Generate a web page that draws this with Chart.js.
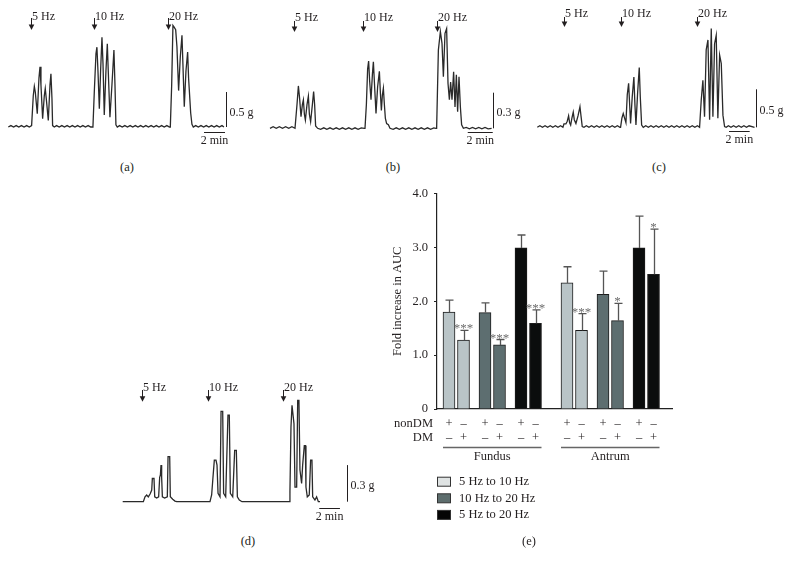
<!DOCTYPE html>
<html>
<head>
<meta charset="utf-8">
<script src="https://cdn.jsdelivr.net/npm/chart.js@4.4.1/dist/chart.umd.min.js"></script>
<style>
  body { margin: 0; background: #fff; }
  #wrap { position: relative; width: 793px; height: 567px; background: #fff; overflow: hidden; }
  #wrap canvas { position: absolute; }
  .cap { position: absolute; font: 12.5px "Liberation Serif", "Times New Roman", serif; color: #231f20; transform: translate(-50%, -50%); }
</style>
</head>
<body>
<div id="wrap">
  <canvas id="cA" width="262" height="150" style="left:0;top:0"></canvas>
  <canvas id="cB" width="266" height="150" style="left:262px;top:0"></canvas>
  <canvas id="cC" width="265" height="150" style="left:528px;top:0"></canvas>
  <canvas id="cD" width="272" height="180" style="left:110px;top:350px"></canvas>
  <canvas id="cE" width="316" height="387" style="left:384px;top:180px"></canvas>
  <div class="cap" style="left:127px;top:167px">(a)</div>
  <div class="cap" style="left:393px;top:167px">(b)</div>
  <div class="cap" style="left:659px;top:167px">(c)</div>
  <div class="cap" style="left:248px;top:541px">(d)</div>
  <div class="cap" style="left:529px;top:541px">(e)</div>
</div>
<script>
// ---- traces: time (min) and force (g) ----
const stimLabels = ['5 Hz', '10 Hz', '20 Hz'];
const timeBarMin = 2;

const aStim = [2.16, 8.19, 15.24];
const aScaleG = 0.5;
const aTime = [0, 0.25, 0.5, 0.75, 1.0, 1.25, 1.5, 1.75, 2.0,
  2.22, 2.38, 2.48, 2.57, 2.76, 2.92, 3.02, 3.11, 3.27, 3.43, 3.52, 3.62, 3.81, 3.97, 4.06, 4.16, 4.22, 4.38,
  4.6, 4.85, 5.1, 5.35, 5.6, 5.85, 6.1, 6.35, 6.6, 6.85, 7.1, 7.35, 7.6, 7.85,
  8.06, 8.19, 8.35, 8.44, 8.54, 8.67, 8.79, 8.92, 9.02, 9.14, 9.30, 9.43, 9.52, 9.68, 9.87, 10.06, 10.16, 10.25, 10.38,
  10.6, 10.85, 11.1, 11.35, 11.6, 11.85, 12.1, 12.35, 12.6, 12.85, 13.1, 13.35, 13.6, 13.85, 14.1, 14.35, 14.6, 14.85, 15.1, 15.35,
  15.43, 15.56, 15.68, 15.78, 15.94, 16.06, 16.22, 16.38, 16.54, 16.63, 16.76, 16.92, 17.08, 17.17, 17.37, 17.49, 17.62,
  17.85, 18.1, 18.35, 18.6, 18.85, 19.1, 19.35, 19.6, 19.85, 20.1, 20.35, 20.54];
const aForce = [0, 0.02, 0, 0.02, 0, 0.02, 0, 0.02, 0,
  0.02, 0.45, 0.58, 0.5, 0.19, 0.7, 0.86, 0.6, 0.12, 0.45, 0.55, 0.4, 0.095, 0.6, 0.76, 0.4, 0.02, 0,
  0.02, 0, 0.02, 0, 0.02, 0, 0.02, 0, 0.02, 0, 0.02, 0, 0.02, 0,
  0, 0.5, 1.05, 1.14, 0.8, 0.26, 0.8, 1.28, 0.9, 0.17, 0.8, 1.19, 0.8, 0.14, 0.6, 1.10, 0.6, 0.03, 0,
  0.02, 0, 0.02, 0, 0.02, 0, 0.02, 0, 0.02, 0, 0.02, 0, 0.02, 0, 0.02, 0, 0.02, 0, 0.02, 0,
  0, 0.6, 1.45, 1.43, 1.39, 1.15, 0.52, 1.0, 1.31, 0.9, 0.29, 0.8, 1.07, 0.7, 0.2, 0.04, 0,
  0.02, 0, 0.02, 0, 0.02, 0, 0.02, 0, 0.02, 0, 0.02, 0];

const bStim = [1.92, 7.47, 13.33];
const bScaleG = 0.3;
const bTime = [0, 0.25, 0.5, 0.75, 1.0, 1.25, 1.5, 1.75, 2.0,
  2.05, 2.16, 2.27, 2.37, 2.48, 2.59, 2.67, 2.75, 2.83, 2.96, 3.07, 3.15, 3.25, 3.39, 3.49, 3.57, 3.65, 3.81,
  4.05, 4.3, 4.55, 4.8, 5.05, 5.3, 5.55, 5.8, 6.05, 6.3, 6.55, 6.8, 7.05, 7.3, 7.55,
  7.60, 7.71, 7.81, 7.89, 7.97, 8.08, 8.19, 8.27, 8.37, 8.48, 8.61, 8.75, 8.83, 8.91, 8.99, 9.07, 9.15, 9.23, 9.33, 9.47, 9.60,
  9.85, 10.1, 10.35, 10.6, 10.85, 11.1, 11.35, 11.6, 11.85, 12.1, 12.35, 12.6, 12.85, 13.1, 13.28,
  13.33, 13.47, 13.63, 13.76, 13.87, 14.0, 14.13, 14.24, 14.35, 14.45, 14.56, 14.69, 14.8, 14.91, 15.01, 15.12, 15.23, 15.33, 15.47,
  15.7, 15.95, 16.2, 16.45, 16.7, 16.95, 17.2, 17.45, 17.73];
const bForce = [0, 0.013, 0, 0.013, 0, 0.013, 0, 0.013, 0,
  0, 0.2, 0.357, 0.25, 0.098, 0.2, 0.24, 0.12, 0.07, 0.2, 0.27, 0.12, 0.056, 0.2, 0.31, 0.2, 0.02, 0,
  -0.008, 0.004, -0.008, 0.004, -0.008, 0.004, -0.008, 0.004, -0.008, 0.004, -0.008, 0.004, -0.008, 0.004, 0,
  0, 0.2, 0.5, 0.567, 0.4, 0.24, 0.45, 0.56, 0.35, 0.126, 0.35, 0.48, 0.3, 0.15, 0.28, 0.337, 0.2, 0.084, 0.04, 0.03, 0,
  -0.008, 0.004, -0.008, 0.004, -0.008, 0.004, -0.008, 0.004, -0.008, 0.004, -0.008, 0.004, -0.008, 0.004, 0,
  0, 0.66, 0.815, 0.716, 0.435, 0.8, 0.84, 0.38, 0.24, 0.39, 0.24, 0.477, 0.18, 0.45, 0.14, 0.435, 0.18, 0.03, 0,
  0.008, -0.004, 0.008, -0.004, 0.008, -0.004, 0.008, -0.004, 0];

const cStim = [2.6, 8.13, 15.48];
const cScaleG = 0.5;
const cTime = [0, 0.25, 0.5, 0.75, 1.0, 1.25, 1.5, 1.75, 2.0, 2.25, 2.48,
  2.58, 2.77, 2.90, 3.03, 3.13, 3.23, 3.35, 3.48, 3.58, 3.74, 3.94, 4.13, 4.23, 4.35, 4.52,
  4.75, 5.0, 5.25, 5.5, 5.75, 6.0, 6.25, 6.5, 6.75, 7.0, 7.25, 7.5, 7.75, 8.0,
  8.06, 8.19, 8.32, 8.45, 8.58, 8.71, 8.84, 8.94, 9.03, 9.19, 9.35, 9.45, 9.55, 9.71, 9.87, 9.97, 10.10, 10.26,
  10.5, 10.75, 11.0, 11.25, 11.5, 11.75, 12.0, 12.25, 12.5, 12.75, 13.0, 13.25, 13.5, 13.75, 14.0, 14.25, 14.5, 14.75, 15.0, 15.25, 15.5, 15.71,
  15.87, 16.03, 16.19, 16.35, 16.52, 16.68, 16.84, 17.0, 17.16, 17.32, 17.48, 17.65, 17.81, 17.97, 18.13, 18.29,
  18.5, 18.75, 19.0, 19.25, 19.5, 19.75, 20.0, 20.25, 20.5, 21.03];
const cForce = [0, 0.02, 0, 0.02, 0, 0.02, 0, 0.02, 0, 0.02, 0,
  0.044, 0.044, 0.08, 0.15, 0.06, 0.03, 0.12, 0.2, 0.1, 0.05, 0.15, 0.27, 0.15, 0.01, 0,
  0.02, 0, 0.02, 0, 0.02, 0, 0.02, 0, 0.02, 0, 0.02, 0, 0.02, 0,
  0, 0.12, 0.18, 0.12, 0.06, 0.43, 0.58, 0.3, 0.05, 0.4, 0.66, 0.3, 0.03, 0.45, 0.785, 0.4, 0.03, 0,
  0.02, 0, 0.02, 0, 0.02, 0, 0.02, 0, 0.02, 0, 0.02, 0, 0.02, 0, 0.02, 0, 0.02, 0, 0.02, 0, 0.02, 0,
  0.36, 0.62, 0.14, 1.02, 1.15, 0.1, 1.30, 0.14, 1.1, 1.21, 0.12, 0.95, 0.84, 0.16, 0.01, 0,
  0.02, 0, 0.02, 0, 0.02, 0, 0.02, 0, 0.02, 0];

const dStim = [1.90, 8.29, 15.48];
const dScaleG = 0.3;
const dTime = [0, 2.0, 2.16, 2.32, 2.48, 2.65, 2.81, 2.87, 3.03, 3.10, 3.29, 3.48, 3.58, 3.65, 3.71, 3.77, 3.84, 4.06, 4.32, 4.39, 4.55, 4.61, 4.84, 5.06, 5.23,
  8.45, 8.61, 8.74, 8.87, 9.03, 9.13, 9.23, 9.42, 9.52, 9.68, 9.77, 9.97, 10.19, 10.32, 10.42, 10.65, 10.84, 11.0, 11.10, 11.29, 11.55,
  16.13, 16.19, 16.29, 16.39, 16.48, 16.58, 16.68, 16.84, 16.94, 17.06, 17.16, 17.32, 17.42, 17.58, 17.68, 17.74, 17.87, 18.06, 18.19, 18.32, 18.39, 18.61, 18.77, 18.94, 19.1];
const dForce = [0, 0, 0.04, 0.055, 0.04, 0.063, 0.096, 0.19, 0.19, 0.04, 0.03, 0.04, 0.2, 0.22, 0.30, 0.2, 0.04, 0.03, 0.04, 0.37, 0.37, 0.04, 0.02, 0.005, 0,
  0, 0.055, 0.2, 0.34, 0.34, 0.30, 0.068, 0.04, 0.74, 0.74, 0.068, 0.04, 0.71, 0.71, 0.068, 0.04, 0.42, 0.42, 0.04, 0.014, 0,
  0, 0.08, 0.61, 0.79, 0.79, 0.64, 0.12, 0.12, 0.83, 0.83, 0.26, 0.15, 0.30, 0.46, 0.46, 0.12, 0.04, 0.055, 0.34, 0.34, 0.04, 0.014, 0.04, 0, 0];

// ---- (e) fold increase in AUC, mean and upper SEM ----
const regions = ['Fundus', 'Antrum'];
const ratios = ['5 Hz to 10 Hz', '10 Hz to 20 Hz', '5 Hz to 20 Hz'];
const fundusNonDM = [1.80, 1.79, 2.99];
const fundusDM = [1.28, 1.19, 1.59];
const antrumNonDM = [2.34, 2.13, 2.99];
const antrumDM = [1.46, 1.64, 2.50];
const fundusNonDMErr = [0.22, 0.18, 0.24];
const fundusDMErr = [0.18, 0.10, 0.25];
const antrumNonDMErr = [0.30, 0.43, 0.59];
const antrumDMErr = [0.31, 0.32, 0.84];
const fundusSig = ['***', '***', '***'];
const antrumSig = ['***', '*', '*'];
const yTicks = [0, 1, 2, 3, 4];

const FONT = '"Liberation Serif", "Times New Roman", serif';
const INK = '#231f20';
const barColors = ['#b9c4c7', '#5d6e70', '#0b0d0d'];
const legendColors = ['#dfe3e3', '#5d6d6d', '#050505'];

Chart.defaults.font.family = FONT;
Chart.defaults.color = INK;

const traceDecor = {
  id: 'traceDecor',
  afterDraw(chart, args, o) {
    const { ctx, scales: { x, y } } = chart;
    ctx.save();
    ctx.fillStyle = INK;
    ctx.strokeStyle = INK;
    ctx.lineWidth = 1;
    ctx.font = '12px ' + FONT;
    ctx.textBaseline = 'alphabetic';
    o.stim.forEach((t, i) => {
      const px = Math.round(x.getPixelForValue(t)) + 0.5;
      ctx.beginPath();
      ctx.moveTo(px, o.arrowTop);
      ctx.lineTo(px, o.arrowBot - 4);
      ctx.stroke();
      ctx.beginPath();
      ctx.moveTo(px - 2.8, o.arrowBot - 5.5);
      ctx.lineTo(px + 2.8, o.arrowBot - 5.5);
      ctx.lineTo(px, o.arrowBot);
      ctx.closePath();
      ctx.fill();
      ctx.textAlign = 'left';
      ctx.fillText(stimLabels[i], px + 0.5, o.labelBase);
    });
    // force scale bar
    const vx = Math.round(x.getPixelForValue(o.vBarAt)) + 0.5;
    const y0 = y.getPixelForValue(0);
    const y1 = y.getPixelForValue(o.gBar);
    ctx.beginPath();
    ctx.moveTo(vx, y0);
    ctx.lineTo(vx, y1);
    ctx.stroke();
    ctx.textAlign = 'left';
    ctx.fillText(o.gBar.toFixed(1) + ' g', vx + 3, (y0 + y1) / 2 + 6);
    // time scale bar
    const hx0 = x.getPixelForValue(o.tBarAt);
    const hx1 = x.getPixelForValue(o.tBarAt + timeBarMin);
    const hy = Math.round(y0 + o.tBarDrop) + 0.5;
    ctx.beginPath();
    ctx.moveTo(hx0, hy);
    ctx.lineTo(hx1, hy);
    ctx.stroke();
    ctx.textAlign = 'center';
    ctx.fillText(timeBarMin + ' min', (hx0 + hx1) / 2, hy + 11);
    ctx.restore();
  }
};

function traceChart(id, time, force, L) {
  const cv = document.getElementById(id);
  const W = cv.width, H = cv.height;
  return new Chart(cv, {
    type: 'line',
    data: {
      datasets: [{
        data: time.map((t, i) => ({ x: t, y: force[i] })),
        borderColor: '#2a2a2a',
        borderWidth: 1.3,
        pointRadius: 0,
        tension: 0,
        fill: false
      }]
    },
    options: {
      responsive: false,
      animation: false,
      devicePixelRatio: 1,
      layout: { padding: 0 },
      plugins: { legend: { display: false }, tooltip: { enabled: false }, traceDecor: L },
      scales: {
        x: { type: 'linear', display: false, min: -L.x0 / L.ppm, max: (W - L.x0) / L.ppm },
        y: { display: false, min: -(H - L.y0) / L.ppg, max: L.y0 / L.ppg }
      }
    },
    plugins: [traceDecor]
  });
}

traceChart('cA', aTime, aForce, { stim: aStim, gBar: aScaleG, x0: 8.3, ppm: 10.5, y0: 127, ppg: 70,
  arrowTop: 18, arrowBot: 30, labelBase: 19.5, vBarAt: 20.73, tBarAt: 18.64, tBarDrop: 4.7 });
traceChart('cB', bTime, bForce, { stim: bStim, gBar: bScaleG, x0: 8, ppm: 12.5, y0: 128.3, ppg: 118.7,
  arrowTop: 21, arrowBot: 32, labelBase: 21, vBarAt: 17.86, tBarAt: 15.82, tBarDrop: 4 });
traceChart('cC', cTime, cForce, { stim: cStim, gBar: cScaleG, x0: 9.3, ppm: 10.33, y0: 127.3, ppg: 76,
  arrowTop: 17, arrowBot: 27, labelBase: 17, vBarAt: 21.2, tBarAt: 18.56, tBarDrop: 3.7 });
traceChart('cD', dTime, dForce, { stim: dStim, gBar: dScaleG, x0: 12.7, ppm: 10.33, y0: 151.7, ppg: 122,
  arrowTop: 40, arrowBot: 51.7, labelBase: 40.5, vBarAt: 21.68, tBarAt: 19.03, tBarDrop: 6.3 });

// ---- (e) bar chart ----
// slot on the x axis: region, ratio pair, member (nonDM / DM)
const slot = (r, i, m) => 12 + r * 118 + i * 36 + m * 14.5;

const barSets = ratios.map((label, i) => ({
  label,
  data: [
    { x: slot(0, i, 0), y: fundusNonDM[i] },
    { x: slot(0, i, 1), y: fundusDM[i] },
    { x: slot(1, i, 0), y: antrumNonDM[i] },
    { x: slot(1, i, 1), y: antrumDM[i] }
  ],
  err: [fundusNonDMErr[i], fundusDMErr[i], antrumNonDMErr[i], antrumDMErr[i]],
  sig: ['', fundusSig[i], '', antrumSig[i]],
  backgroundColor: barColors[i],
  borderColor: '#1c1c1c',
  borderWidth: 1,
  barThickness: 12,
  grouped: false
}));

const barDecor = {
  id: 'barDecor',
  afterDatasetsDraw(chart) {
    const { ctx, scales: { y } } = chart;
    ctx.save();
    ctx.strokeStyle = '#555';
    ctx.fillStyle = '#6d6d6d';
    ctx.lineWidth = 1.3;
    ctx.font = '13px ' + FONT;
    ctx.textAlign = 'center';
    ctx.textBaseline = 'alphabetic';
    chart.data.datasets.forEach((ds, di) => {
      chart.getDatasetMeta(di).data.forEach((bar, j) => {
        const top = y.getPixelForValue(ds.data[j].y + ds.err[j]);
        const bx = Math.round(bar.x) + 0.5;
        ctx.beginPath();
        ctx.moveTo(bx, bar.y);
        ctx.lineTo(bx, top);
        ctx.moveTo(bx - 4, top);
        ctx.lineTo(bx + 4, top);
        ctx.stroke();
        if (ds.sig[j]) ctx.fillText(ds.sig[j], bar.x, top + 2);
      });
    });
    ctx.restore();
  },
  afterDraw(chart) {
    const { ctx, chartArea: a } = chart;
    ctx.save();
    ctx.fillStyle = INK;
    ctx.font = '12.5px ' + FONT;
    ctx.textBaseline = 'middle';
    const rowNon = a.bottom + 15, rowDM = a.bottom + 29;
    ctx.textAlign = 'right';
    ctx.fillText('nonDM', a.left - 4, rowNon);
    ctx.fillText('DM', a.left - 4, rowDM);
    ctx.textAlign = 'center';
    const spans = regions.map(() => [Infinity, -Infinity]);
    chart.data.datasets.forEach((ds, di) => {
      chart.getDatasetMeta(di).data.forEach((bar, j) => {
        const isDM = j % 2 === 1;
        ctx.fillText(isDM ? '\u2013' : '+', bar.x, rowNon);
        ctx.fillText(isDM ? '+' : '\u2013', bar.x, rowDM);
        const s = spans[Math.floor(j / 2)];
        s[0] = Math.min(s[0], bar.x - bar.width / 2);
        s[1] = Math.max(s[1], bar.x + bar.width / 2);
      });
    });
    ctx.strokeStyle = '#666';
    ctx.lineWidth = 1.3;
    spans.forEach((s, r) => {
      ctx.beginPath();
      ctx.moveTo(s[0], a.bottom + 38.5);
      ctx.lineTo(s[1], a.bottom + 38.5);
      ctx.stroke();
      ctx.fillText(regions[r], (s[0] + s[1]) / 2, a.bottom + 48);
    });
    // legend
    ctx.textAlign = 'left';
    ctx.strokeStyle = '#333';
    ctx.lineWidth = 1;
    chart.data.datasets.forEach((ds, di) => {
      const cy = a.bottom + 72.7 + di * 16.6;
      ctx.fillStyle = legendColors[di];
      ctx.fillRect(a.left + 0.5, cy - 4.5, 13, 9);
      ctx.strokeRect(a.left + 0.5, cy - 4.5, 13, 9);
      ctx.fillStyle = INK;
      ctx.fillText(ds.label, a.left + 22, cy);
    });
    ctx.restore();
  }
};

new Chart(document.getElementById('cE'), {
  type: 'bar',
  data: { datasets: barSets },
  options: {
    responsive: false,
    animation: false,
    devicePixelRatio: 1,
    layout: { padding: { top: 9, right: 28, bottom: 158, left: 0 } },
    plugins: { legend: { display: false }, tooltip: { enabled: false } },
    scales: {
      x: {
        type: 'linear', min: 0, max: 235, offset: false,
        grid: { display: false },
        ticks: { display: false },
        border: { color: '#222', width: 1.2 },
        afterFit: s => { s.height = 0; }
      },
      y: {
        min: 0, max: 4,
        afterBuildTicks: s => { s.ticks = yTicks.map(v => ({ value: v })); },
        ticks: {
          padding: 6,
          color: INK,
          font: { size: 12.5, family: FONT },
          callback: v => (v === 0 ? '0' : v.toFixed(1))
        },
        grid: { drawOnChartArea: false, tickLength: 3, color: '#222' },
        border: { color: '#222', width: 1.2 },
        title: {
          display: true, text: 'Fold increase in AUC', color: INK,
          font: { size: 12.5, family: FONT }, padding: { top: 6.5, bottom: 0 }
        },
        afterFit: s => { s.width = 53; }
      }
    }
  },
  plugins: [barDecor]
});
</script>
</body>
</html>
